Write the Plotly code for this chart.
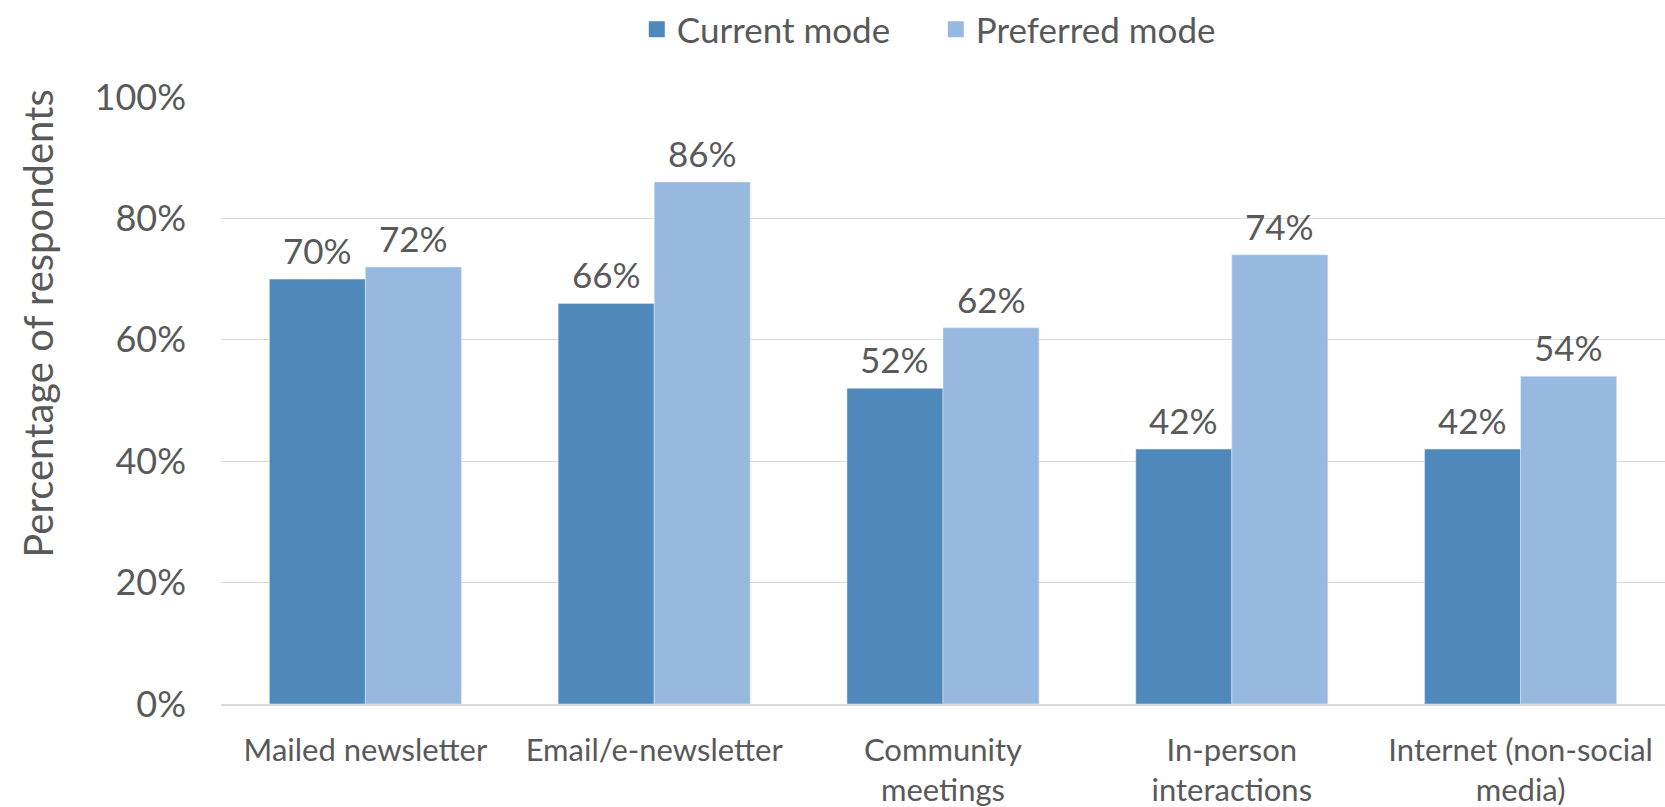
import plotly.graph_objects as go

categories = ["Mailed newsletter", "Email/e-newsletter", "Community<br>meetings",
              "In-person<br>interactions", "Internet (non-social<br>media)"]
current_mode = [0.70, 0.66, 0.52, 0.42, 0.42]
preferred_mode = [0.72, 0.86, 0.62, 0.74, 0.54]
y_ticks = [0, 0.2, 0.4, 0.6, 0.8, 1.0]
y_tick_labels = ["0%", "20%", "40%", "60%", "80%", "100%"]
series_names = ["Current mode", "Preferred mode"]
series_colors = ["#4F89BC", "#98B9DF"]

TEXT = "#595959"
FONT = "Lato, Open Sans, sans-serif"

fig = go.Figure()
for name, vals, color in zip(series_names, [current_mode, preferred_mode], series_colors):
    fig.add_trace(go.Bar(
        name=name, x=categories, y=vals, marker_color=color, showlegend=False,
        cliponaxis=False,
    ))
    # legend entry with larger square symbol
    fig.add_trace(go.Scatter(
        name=name, x=[None], y=[None], mode="markers",
        marker=dict(symbol="square", size=16, color=color), showlegend=True,
    ))

# data labels as annotations above bars
bar_px = 1444 / len(categories) * (1 - 0.335) / 2
for i, vals in enumerate([current_mode, preferred_mode]):
    shift = (i - 0.5) * bar_px
    for c, v in zip(categories, vals):
        fig.add_annotation(x=c, y=v, text=f"{v*100:.0f}%", showarrow=False,
                           xshift=shift, yshift=6, yanchor="bottom",
                           font=dict(size=35, color=TEXT, family=FONT))

fig.update_layout(
    width=1665, height=807,
    barmode="group", bargap=0.335, bargroupgap=0,
    plot_bgcolor="white", paper_bgcolor="white",
    margin=dict(l=221, r=0, t=97, b=103, autoexpand=False),
    font=dict(family=FONT, color=TEXT, size=30),
    legend=dict(orientation="h", x=0.495, xanchor="center", y=1.0, yref="container",
                yanchor="top", font=dict(size=35, color=TEXT), traceorder="normal",
                itemwidth=30, entrywidth=254),
    xaxis=dict(showline=True, linecolor="#D9D9D9", linewidth=1.5, ticks="",
               tickfont=dict(size=31, color=TEXT, family=FONT),
               ticklabelstandoff=18, showgrid=False),
    yaxis=dict(range=[0, 1], tickvals=y_ticks, ticktext=y_tick_labels,
               showgrid=True, gridcolor="#D9D9D9", gridwidth=1.2,
               zeroline=False, ticks="", ticklen=0,
               ticklabelstandoff=34,
               tickfont=dict(size=36, color=TEXT)),
)
fig.add_annotation(text="Percentage of respondents", textangle=-90, showarrow=False,
                   xref="paper", yref="paper", x=-0.127, y=0.626,
                   xanchor="center", yanchor="middle",
                   font=dict(size=40, color=TEXT, family=FONT))

fig.write_html("out.html", config={"displayModeBar": False},
               post_script="document.body.style.margin='0';document.body.style.overflow='hidden';")
